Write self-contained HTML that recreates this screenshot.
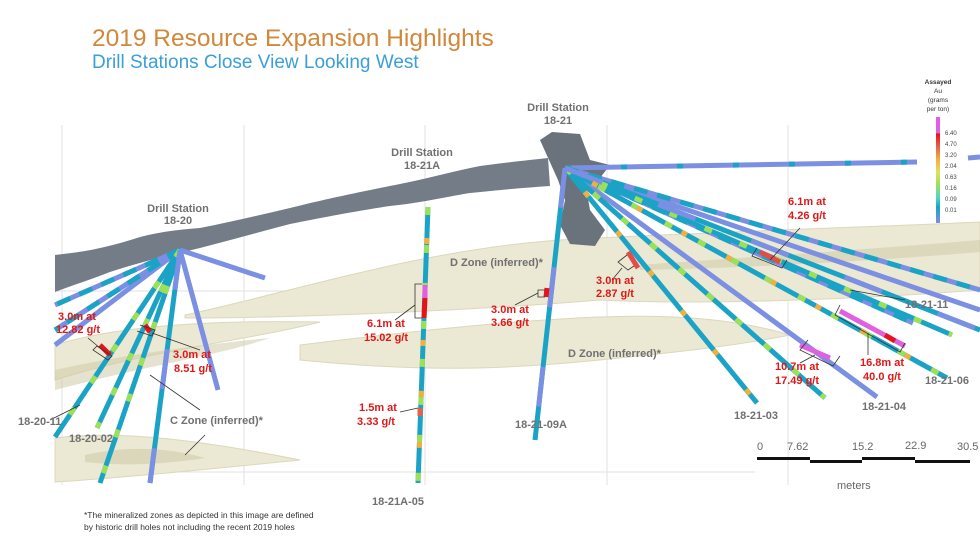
<!DOCTYPE html>
<html><head><meta charset="utf-8"><style>
body{margin:0;background:#fff;}
svg{display:block;font-family:"Liberation Sans",sans-serif;}
.st{font-weight:bold;fill:#707070;font-size:11px;text-anchor:middle}
.rd{font-weight:bold;fill:#e01818;font-size:11px;text-anchor:middle}
.hl{font-weight:bold;fill:#707070;font-size:11px}
</style></head><body>
<svg width="980" height="551" viewBox="0 0 980 551">
<rect width="980" height="551" fill="#fff"/>
<text x="92" y="46" font-size="24.5" fill="#d0883a">2019 Resource Expansion Highlights</text>
<text x="92" y="68" font-size="19" fill="#3b9fd8">Drill Stations Close View Looking West</text>
<!-- grid -->
<g stroke="#e2e2e2" stroke-width="1">
<line x1="62" y1="125" x2="62" y2="485"/><line x1="244" y1="125" x2="244" y2="485"/>
<line x1="425" y1="125" x2="425" y2="485"/><line x1="607" y1="125" x2="607" y2="485"/>
<line x1="788" y1="125" x2="788" y2="485"/>
<line x1="55" y1="291" x2="980" y2="291"/><line x1="55" y1="472" x2="755" y2="472"/>
</g>
<!-- zones -->
<g fill="#ebe8d3" stroke="#dcd8bc" stroke-width="1">
<path d="M185,315 C300,290 420,250 560,240 C700,232 850,228 980,222 L980,290 C850,300 700,305 600,300 C480,310 300,318 185,318 Z"/>
<path d="M300,345 C420,330 520,320 600,317 C680,314 740,320 790,335 C740,345 680,352 600,360 C500,370 420,372 300,360 Z"/>
<path d="M55,345 C120,325 220,320 320,322 C250,340 150,350 55,380 Z"/>
<path d="M55,438 C120,430 200,440 300,460 C200,470 120,478 55,482 Z"/>
</g>
<g fill="#cfcaa8" opacity="0.55">
<path d="M55,370 C120,355 200,345 270,338 C220,355 150,365 55,390 Z"/>
<path d="M85,455 C130,445 170,448 205,458 C160,465 120,466 85,462 Z"/>
<path d="M640,265 C740,258 860,250 980,240 L980,252 C860,262 740,268 640,270 Z"/>
</g>
<!-- tunnel -->
<path d="M55,255 C80,252 100,250 140,237 C160,232 175,230 200,228 C230,222 260,215 290,208 C330,198 360,192 400,184 C430,178 450,172 480,166 C510,162 530,160 548,158 L550,186 C520,188 500,190 470,193 C440,198 420,203 390,206 C350,212 320,218 290,224 C260,232 230,240 200,248 C170,255 140,262 110,272 C90,280 70,286 55,292 Z" fill="#737c87"/>
<path d="M540,140 L552,132 L580,134 L590,160 L610,165 L600,178 L585,182 L590,210 L605,230 L595,246 L570,244 L560,225 L565,200 L558,180 Z" fill="#6a727c"/>
<!-- drill lines -->
<g stroke-width="5" fill="none" stroke-linecap="butt">
<g stroke="#7b8fe3">
<line x1="180" y1="250" x2="55" y2="305"/><line x1="180" y1="250" x2="55" y2="330"/>
<line x1="180" y1="250" x2="55" y2="345"/><line x1="180" y1="250" x2="218" y2="390"/>
<line x1="180" y1="250" x2="265" y2="278"/>
<line x1="565" y1="168" x2="917" y2="162"/><line x1="968" y1="158" x2="980" y2="157"/>
<line x1="565" y1="168" x2="980" y2="290"/><line x1="565" y1="168" x2="980" y2="310"/>
<line x1="565" y1="168" x2="913" y2="323"/><line x1="565" y1="168" x2="877" y2="397"/>
</g>
<g stroke="#1ba3c6" stroke-dasharray="14 10">
<line x1="180" y1="250" x2="55" y2="305"/><line x1="180" y1="250" x2="55" y2="330"/>
<line x1="565" y1="168" x2="980" y2="290"/><line x1="565" y1="168" x2="913" y2="323"/>
<line x1="565" y1="168" x2="917" y2="162" stroke-dasharray="6 50"/>
</g>
<g stroke="#1ba3c6">
<line x1="180" y1="250" x2="55" y2="437"/><line x1="180" y1="250" x2="97" y2="428"/>
<line x1="180" y1="250" x2="100" y2="483"/><line x1="180" y1="250" x2="150" y2="483"/>
<line x1="428" y1="207" x2="418" y2="483"/><line x1="565" y1="168" x2="535" y2="440"/>
<line x1="565" y1="168" x2="757" y2="403"/><line x1="565" y1="168" x2="825" y2="398"/>
<line x1="565" y1="168" x2="947" y2="378"/><line x1="565" y1="168" x2="952" y2="335"/>
<line x1="565" y1="168" x2="980" y2="330"/>
</g>
<g stroke="#9be05a" stroke-dasharray="8 30">
<line x1="180" y1="250" x2="55" y2="437"/><line x1="180" y1="250" x2="97" y2="428"/>
<line x1="180" y1="250" x2="100" y2="483"/><line x1="428" y1="207" x2="418" y2="483"/>
<line x1="565" y1="168" x2="947" y2="378"/><line x1="565" y1="168" x2="825" y2="398"/>
<line x1="565" y1="168" x2="952" y2="335"/>
</g>
<g stroke="#7b8fe3" stroke-dasharray="40 60">
<line x1="180" y1="250" x2="150" y2="483"/><line x1="565" y1="168" x2="535" y2="440"/>
<line x1="565" y1="168" x2="980" y2="330"/>
</g>
<g stroke="#f0b040" stroke-dasharray="6 45" stroke-dashoffset="20">
<line x1="428" y1="207" x2="418" y2="483"/><line x1="565" y1="168" x2="757" y2="403"/>
<line x1="565" y1="168" x2="947" y2="378"/>
</g>
<line x1="425" y1="285" x2="425" y2="298" stroke="#e060e0"/>
<line x1="425" y1="298" x2="424" y2="318" stroke="#e8121a"/>
<line x1="420" y1="408" x2="420" y2="416" stroke="#e8604a"/>
<line x1="547" y1="288" x2="546" y2="297" stroke="#e8121a"/>
<line x1="628" y1="252" x2="638" y2="268" stroke="#e84a4a"/>
<line x1="760" y1="252" x2="780" y2="262" stroke="#e84a4a"/>
<line x1="800" y1="345" x2="830" y2="358" stroke="#e060e0"/>
<line x1="840" y1="311" x2="905" y2="346" stroke="#e060e0"/>
<line x1="885" y1="335" x2="895" y2="341" stroke="#e8121a"/>
<line x1="100" y1="345" x2="110" y2="355" stroke="#e8121a"/>
<line x1="145" y1="325" x2="150" y2="332" stroke="#e8121a"/>
</g>
<g stroke="#333" fill="none" stroke-width="0.8">
<path d="M422,284 L415,284 L415,318 L422,318"/><path d="M415,305 L395,320"/>
<path d="M545,290 L538,290 L538,297 L545,297"/><path d="M538,293 L515,305"/>
<path d="M627,255 L618,262 L628,270 L634,266"/><path d="M622,268 L612,280"/>
<path d="M757,248 L752,256 L782,268 L787,260"/><path d="M770,260 L800,228"/>
<path d="M808,340 L800,350 L833,366 L840,356"/><path d="M815,355 L800,363"/>
<path d="M840,305 L835,315 L900,352 L905,343"/><path d="M868,333 L868,355"/>
<path d="M905,300 L850,290"/>
<path d="M97,346 L112,356 L108,360 L93,350 Z"/><path d="M100,348 L88,338"/>
<path d="M140,325 L155,330 L152,336 L137,331"/><path d="M152,333 L200,350"/>
<path d="M150,375 L200,410"/><path d="M205,435 L185,455"/>
<path d="M50,420 L80,405"/><path d="M400,412 L418,408"/>
</g>
<text class="st" x="178" y="212">Drill Station</text><text class="st" x="178" y="224">18-20</text>
<text class="st" x="422" y="156">Drill Station</text><text class="st" x="422" y="169">18-21A</text>
<text class="st" x="558" y="111">Drill Station</text><text class="st" x="558" y="124">18-21</text>
<text class="rd" x="77" y="320">3.0m at</text><text class="rd" x="78" y="333">12.82 g/t</text>
<text class="rd" x="192" y="358">3.0m at</text><text class="rd" x="193" y="372">8.51 g/t</text>
<text class="rd" x="386" y="327">6.1m at</text><text class="rd" x="386" y="341">15.02 g/t</text>
<text class="rd" x="378" y="411">1.5m at</text><text class="rd" x="376" y="425">3.33 g/t</text>
<text class="rd" x="510" y="313">3.0m at</text><text class="rd" x="510" y="326">3.66 g/t</text>
<text class="rd" x="615" y="284">3.0m at</text><text class="rd" x="615" y="297">2.87 g/t</text>
<text class="rd" x="807" y="205">6.1m at</text><text class="rd" x="807" y="219">4.26 g/t</text>
<text class="rd" x="797" y="370">10.7m at</text><text class="rd" x="797" y="384">17.49 g/t</text>
<text class="rd" x="882" y="366">16.8m at</text><text class="rd" x="882" y="380">40.0 g/t</text>
<text class="hl" x="18" y="425">18-20-11</text><text class="hl" x="69" y="442">18-20-02</text>
<text class="hl" x="170" y="424" font-weight="normal" fill="#666">C Zone (inferred)*</text>
<text class="hl" x="450" y="266" font-weight="normal" fill="#666">D Zone (inferred)*</text>
<text class="hl" x="568" y="357" font-weight="normal" fill="#666">D Zone (inferred)*</text>
<text class="hl" x="372" y="505">18-21A-05</text>
<text class="hl" x="515" y="428">18-21-09A</text>
<text class="hl" x="734" y="419">18-21-03</text>
<text class="hl" x="862" y="410">18-21-04</text>
<text class="hl" x="925" y="384">18-21-06</text>
<text class="hl" x="905" y="308">18-21-11</text>
<text x="938" y="84" font-size="6.5" fill="#333" text-anchor="middle" font-weight="bold">Assayed</text>
<text x="938" y="93" font-size="6.5" fill="#333" text-anchor="middle">Au</text>
<text x="938" y="102" font-size="6.5" fill="#333" text-anchor="middle">(grams</text>
<text x="938" y="111" font-size="6.5" fill="#333" text-anchor="middle">per ton)</text>
<defs><linearGradient id="lg" x1="0" y1="0" x2="0" y2="1">
<stop offset="0" stop-color="#e060e0"/><stop offset="0.15" stop-color="#e060e0"/><stop offset="0.16" stop-color="#e8121a"/>
<stop offset="0.28" stop-color="#e8604a"/><stop offset="0.4" stop-color="#f0b040"/><stop offset="0.52" stop-color="#e0e060"/>
<stop offset="0.64" stop-color="#9be05a"/><stop offset="0.76" stop-color="#50d8c8"/><stop offset="0.85" stop-color="#1ba3c6"/><stop offset="1" stop-color="#7b8fe3"/></linearGradient></defs>
<rect x="936" y="117" width="4" height="106" fill="url(#lg)"/>
<g font-size="6" fill="#444">
<text x="945" y="135">6.40</text><text x="945" y="146">4.70</text><text x="945" y="157">3.20</text><text x="945" y="168">2.04</text>
<text x="945" y="179">0.63</text><text x="945" y="190">0.16</text><text x="945" y="201">0.09</text><text x="945" y="212">0.01</text>
</g>
<g font-size="11" fill="#666">
<text x="757" y="450">0</text><text x="787" y="450">7.62</text><text x="852" y="450">15.2</text><text x="905" y="449">22.9</text><text x="957" y="450">30.5</text>
<text x="837" y="489">meters</text>
</g>
<rect x="757" y="457" width="53" height="3" fill="#111"/><rect x="810" y="460" width="52" height="3" fill="#111"/>
<rect x="862" y="457" width="53" height="3" fill="#111"/><rect x="915" y="460" width="55" height="3" fill="#111"/>
<text x="84" y="518" font-size="8.5" fill="#333">*The mineralized zones as depicted in this image are defined</text>
<text x="84" y="530" font-size="8.5" fill="#333">by historic drill holes not including the recent 2019 holes</text>
</svg>
</body></html>
